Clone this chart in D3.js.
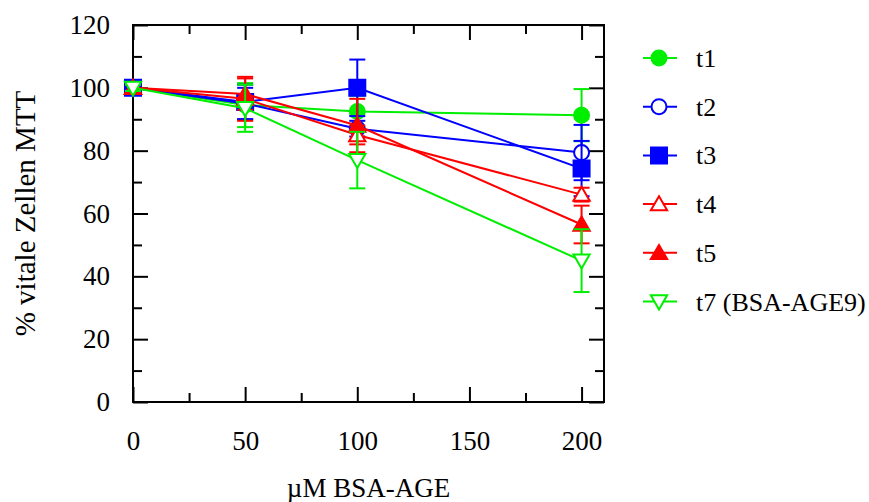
<!DOCTYPE html>
<html>
<head>
<meta charset="utf-8">
<script src="https://cdn.jsdelivr.net/npm/d3@7"></script>
</head>
<body style="margin:0">
<script>
// data
var doses = [0, 50, 100, 200];
var seriesNames = ["t1", "t2", "t3", "t4", "t5", "t7 (BSA-AGE9)"];
var t1 = [100, 94.5, 92.5, 91.3];
var t2 = [100, 95, 87, 79.4];
var t3 = [100, 95.5, 100, 74.3];
var t4 = [100, 96.5, 85, 66];
var t5 = [100, 98, 88, 56.5];
var t7 = [100, 93.5, 77, 45];
var t1Err = [1, 7, 5, 8.3];
var t2Err = [1, 5, 2.5, 8.8];
var t3Err = [1, 5.5, 9, 8.8];
var t4Err = [1, 7, 3, 2.2];
var t5Err = [1, 5, 8.5, 6];
var t7Err = [1, 7.5, 9, 10];
var xTicks = [0, 50, 100, 150, 200];
var xMinor = [25, 75, 125, 175];
var yTicks = [0, 20, 40, 60, 80, 100, 120];
var yMinor = [10, 30, 50, 70, 90, 110];

var width = 869;
var height = 502;
var pLeft = 133, pRight = 604, pTop = 25, pBottom = 402;
var serif = "Liberation Serif";

var svg = d3.select("body").append("svg")
  .attr("width", width)
  .attr("height", height)
  .attr("font-family", serif)
  .style("font-family", serif);

var xScale = d3.scaleLinear().domain([0, 210]).range([pLeft, pRight]);
var yScale = d3.scaleLinear().domain([0, 120]).range([pBottom, pTop]);

function label(sel, size) {
  return sel.attr("font-family", serif).attr("font-size", size)
    .style("font-family", serif).style("font-size", size + "px").attr("fill", "#000");
}

// axes, ticks pointing inward on all four sides
function styleAxis(g) {
  g.attr("font-family", serif).attr("font-size", 27);
  g.selectAll(".domain").remove();
  g.selectAll("line").attr("stroke", "#000").attr("stroke-width", 2);
  label(g.selectAll("text"), 27);
}
function addAxis(axis, tx, ty) {
  svg.append("g").attr("transform", "translate(" + tx + "," + ty + ")").call(axis).call(styleAxis);
}
addAxis(d3.axisBottom(xScale).tickValues(xTicks).tickSizeInner(-15).tickSizeOuter(0).tickPadding(29), 0, pBottom);
addAxis(d3.axisBottom(xScale).tickValues(xMinor).tickSizeInner(-9).tickSizeOuter(0).tickFormat(""), 0, pBottom);
addAxis(d3.axisTop(xScale).tickValues(xTicks).tickSizeInner(-15).tickSizeOuter(0).tickFormat(""), 0, pTop);
addAxis(d3.axisTop(xScale).tickValues(xMinor).tickSizeInner(-9).tickSizeOuter(0).tickFormat(""), 0, pTop);
addAxis(d3.axisLeft(yScale).tickValues(yTicks).tickSizeInner(-15).tickSizeOuter(0).tickPadding(23), pLeft, 0);
addAxis(d3.axisLeft(yScale).tickValues(yMinor).tickSizeInner(-9).tickSizeOuter(0).tickFormat(""), pLeft, 0);
addAxis(d3.axisRight(yScale).tickValues(yTicks).tickSizeInner(-15).tickSizeOuter(0).tickFormat(""), pRight, 0);
addAxis(d3.axisRight(yScale).tickValues(yMinor).tickSizeInner(-9).tickSizeOuter(0).tickFormat(""), pRight, 0);

svg.append("rect")
  .attr("x", pLeft).attr("y", pTop)
  .attr("width", pRight - pLeft).attr("height", pBottom - pTop)
  .attr("fill", "none").attr("stroke", "#000").attr("stroke-width", 2);

// axis titles
label(svg.append("text"), 27)
  .attr("x", (pLeft + pRight) / 2).attr("y", 497)
  .attr("text-anchor", "middle")
  .text("\u00b5M BSA-AGE");
label(svg.append("text"), 29)
  .attr("transform", "translate(35," + ((pTop + pBottom) / 2) + ")rotate(-90)")
  .attr("text-anchor", "middle")
  .text("% vitale Zellen MTT");

// markers
var sym = {
  circle: d3.symbol().type(d3.symbolCircle).size(Math.PI * 7.5 * 7.5),
  square: d3.symbol().type(d3.symbolSquare).size(16 * 16),
  triUp: d3.symbol().type(d3.symbolTriangle).size(115),
  triDown: d3.symbol().type(d3.symbolTriangle).size(115)
};
var series = [
  { name: seriesNames[0], vals: t1, err: t1Err, color: "#00ee00", shape: "circle", filled: true },
  { name: seriesNames[1], vals: t2, err: t2Err, color: "#0000ff", shape: "circle", filled: false },
  { name: seriesNames[2], vals: t3, err: t3Err, color: "#0000ff", shape: "square", filled: true },
  { name: seriesNames[3], vals: t4, err: t4Err, color: "#ff0000", shape: "triUp", filled: false },
  { name: seriesNames[4], vals: t5, err: t5Err, color: "#ff0000", shape: "triUp", filled: true },
  { name: seriesNames[5], vals: t7, err: t7Err, color: "#00ee00", shape: "triDown", filled: false }
];

function drawMarker(g, s, x, y) {
  var rot = s.shape === "triDown" ? " rotate(180)" : "";
  var dy = s.shape === "triUp" ? 1.5 : (s.shape === "triDown" ? -1.5 : 0);
  g.append("path")
    .attr("d", sym[s.shape]())
    .attr("transform", "translate(" + x + "," + (y + dy) + ")" + rot)
    .attr("fill", s.filled ? s.color : "#fff")
    .attr("stroke", s.color)
    .attr("stroke-width", 2);
}

var line = d3.line()
  .x(function(d) { return xScale(d[0]); })
  .y(function(d) { return yScale(d[1]); });

series.forEach(function(s) {
  var g = svg.append("g");
  var pts = doses.map(function(d, i) { return [d, s.vals[i], s.err[i]]; });
  g.append("path")
    .attr("d", line(pts))
    .attr("fill", "none")
    .attr("stroke", s.color)
    .attr("stroke-width", 2);
  pts.forEach(function(p) {
    var x = xScale(p[0]);
    var y1 = yScale(p[1] + p[2]), y2 = yScale(p[1] - p[2]);
    g.append("line").attr("x1", x).attr("x2", x).attr("y1", y1).attr("y2", y2)
      .attr("stroke", s.color).attr("stroke-width", 2);
    [y1, y2].forEach(function(yy) {
      g.append("line").attr("x1", x - 8).attr("x2", x + 8).attr("y1", yy).attr("y2", yy)
        .attr("stroke", s.color).attr("stroke-width", 2);
    });
  });
  pts.forEach(function(p) {
    drawMarker(g, s, xScale(p[0]), yScale(p[1]));
  });
});

// legend
var legend = svg.append("g");
series.forEach(function(s, i) {
  var y = 58 + i * 48.7;
  var g = legend.append("g");
  g.append("line").attr("x1", 643).attr("x2", 677).attr("y1", y).attr("y2", y)
    .attr("stroke", s.color).attr("stroke-width", 2);
  drawMarker(g, s, 659, y);
  label(g.append("text"), 26).attr("x", 696).attr("y", y + 9).text(s.name);
});
</script>
</body>
</html>
